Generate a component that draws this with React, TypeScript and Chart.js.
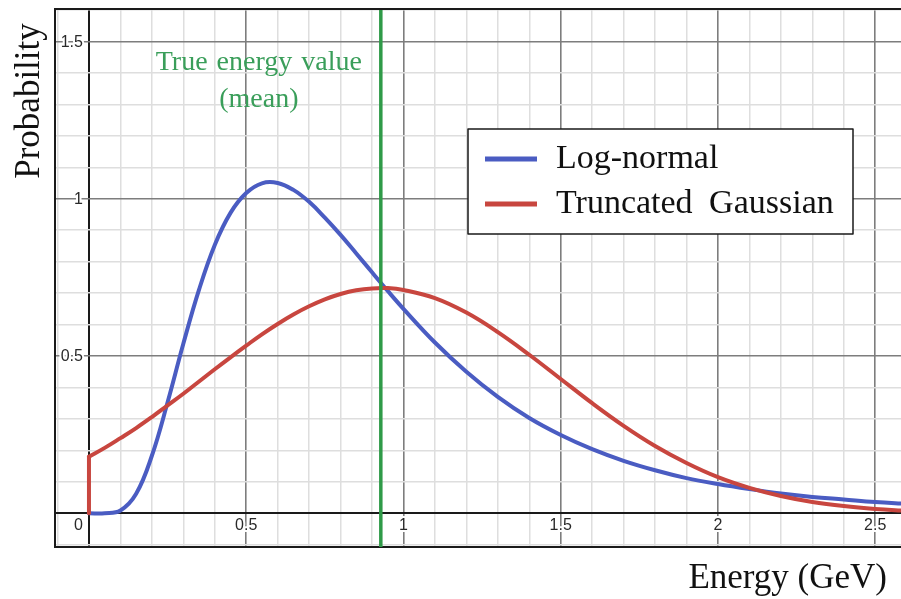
import React, { useEffect, useRef } from "react";
import { Chart, registerables } from "chart.js";

Chart.register(...registerables);

// ---- data ----
const ENERGY = [
  0, 0.05, 0.1, 0.15, 0.2, 0.25, 0.3, 0.35, 0.4, 0.45, 0.5, 0.55, 0.6, 0.65, 0.7, 0.75, 0.8, 0.85, 0.9, 0.95, 1.0,
  1.1, 1.2, 1.3, 1.4, 1.5, 1.6, 1.7, 1.8, 1.9, 2.0, 2.1, 2.2, 2.3, 2.4, 2.5, 2.6,
];
const LOG_NORMAL = [
  0, 0.0001, 0.009, 0.062, 0.183, 0.353, 0.539, 0.711, 0.853, 0.955, 1.018, 1.049, 1.05, 1.028, 0.99, 0.94, 0.885, 0.826, 0.766, 0.707, 0.65,
  0.543, 0.45, 0.37, 0.303, 0.249, 0.204, 0.167, 0.137, 0.112, 0.093, 0.077, 0.063, 0.052, 0.044, 0.036, 0.03,
];
const TRUNC_GAUSS = [
  0.18, 0.208, 0.239, 0.271, 0.306, 0.343, 0.38, 0.419, 0.458, 0.496, 0.533, 0.569, 0.602, 0.632, 0.658, 0.68, 0.697, 0.709, 0.715, 0.716, 0.71,
  0.684, 0.638, 0.576, 0.504, 0.427, 0.35, 0.278, 0.214, 0.16, 0.115, 0.081, 0.055, 0.036, 0.023, 0.014, 0.008,
];
const TRUE_ENERGY = 0.928;
const X_TICKS = [0, 0.5, 1, 1.5, 2, 2.5];
const Y_TICKS = [0.5, 1, 1.5];
const SERIES_LABELS = ["Log-normal", "Truncated Gaussian"];
const X_TITLE = "Energy (GeV)";
const Y_TITLE = "Probability";
const MEAN_NOTE = ["True energy value", "(mean)"];
const X_MIN = -0.108;
const X_MAX = 2.582;
const Y_MIN = -0.107;
const Y_MAX = 1.603;

const BLUE = "#4a5cc2";
const RED = "#c8463f";
const GREEN = "#2f9a48";
const GREEN_TEXT = "#3a9e5a";

const isNear = (a: number, b: number) => Math.abs(a - b) < 1e-6;
const gridColor = (c: any) => {
  const v = c.tick ? c.tick.value : NaN;
  if (isNear(v, 0)) return "#1a1a1a";
  if (isNear(v * 2, Math.round(v * 2))) return "#7d7d7d";
  return "#dedede";
};
const gridWidth = (c: any) => {
  const v = c.tick ? c.tick.value : NaN;
  if (isNear(v, 0)) return 2;
  if (isNear(v * 2, Math.round(v * 2))) return 1.6;
  return 1.5;
};

const overlay = {
  id: "overlay",
  afterDatasetsDraw(chart: any) {
    const { ctx, chartArea: a, scales } = chart;
    const x = scales.x;
    const y = scales.y;
    ctx.save();

    // top frame line
    ctx.strokeStyle = "#1a1a1a";
    ctx.lineWidth = 2;
    ctx.beginPath();
    ctx.moveTo(a.left - 1, a.top);
    ctx.lineTo(a.right, a.top);
    ctx.stroke();

    // tick labels next to the axes
    const x0 = x.getPixelForValue(0);
    const y0 = y.getPixelForValue(0);
    ctx.font = '16px "Liberation Sans", Arial, sans-serif';
    ctx.lineJoin = "round";
    const label = (t: string, px: number, py: number, align: any, base: any) => {
      ctx.textAlign = align;
      ctx.textBaseline = base;
      ctx.strokeStyle = "#ffffff";
      ctx.lineWidth = 4;
      ctx.strokeText(t, px, py);
      ctx.fillStyle = "#2a2a2a";
      ctx.fillText(t, px, py);
    };
    X_TICKS.forEach((v) => {
      if (v === 0) label("0", x0 - 6, y0 + 4, "right", "top");
      else label(String(v), x.getPixelForValue(v), y0 + 4, "center", "top");
    });
    Y_TICKS.forEach((v) => label(String(v), x0 - 6, y.getPixelForValue(v) + 1, "right", "middle"));

    // note about the true energy value
    const gx = x.getPixelForValue(TRUE_ENERGY) - 122;
    ctx.fillStyle = GREEN_TEXT;
    ctx.font = '28px "Liberation Serif", "Times New Roman", serif';
    ctx.textAlign = "center";
    ctx.textBaseline = "alphabetic";
    try { (ctx as any).wordSpacing = "2px"; } catch (e) {}
    ctx.fillText(MEAN_NOTE[0], gx, a.top + 61);
    ctx.fillText(MEAN_NOTE[1], gx, a.top + 98);

    // legend
    const bx = a.left + 413;
    const by = a.top + 120;
    const bw = 385;
    const bh = 105;
    ctx.fillStyle = "#ffffff";
    ctx.fillRect(bx, by, bw, bh);
    ctx.strokeStyle = "#1a1a1a";
    ctx.lineWidth = 1.5;
    ctx.strokeRect(bx, by, bw, bh);
    const items = chart.data.datasets.filter((d: any) => SERIES_LABELS.includes(d.label));
    items.sort((p: any, q: any) => SERIES_LABELS.indexOf(p.label) - SERIES_LABELS.indexOf(q.label));
    ctx.font = '34px "Liberation Serif", "Times New Roman", serif';
    ctx.textAlign = "left";
    try { (ctx as any).wordSpacing = "8px"; } catch (e) {}
    items.forEach((d: any, i: number) => {
      const ly = by + 30 + i * 45;
      ctx.strokeStyle = d.borderColor;
      ctx.lineWidth = 5;
      ctx.beginPath();
      ctx.moveTo(bx + 17, ly);
      ctx.lineTo(bx + 69, ly);
      ctx.stroke();
      ctx.fillStyle = "#111111";
      ctx.fillText(d.label, bx + 88, ly + 9);
    });
    try { (ctx as any).wordSpacing = "0px"; } catch (e) {}

    // axis titles
    ctx.fillStyle = "#111111";
    ctx.font = '35px "Liberation Serif", "Times New Roman", serif';
    ctx.textAlign = "right";
    ctx.textBaseline = "alphabetic";
    ctx.fillText(X_TITLE, a.right - 14, a.bottom + 41);
    ctx.save();
    ctx.translate(a.left - 16, a.top + 92);
    ctx.rotate(-Math.PI / 2);
    ctx.textAlign = "center";
    ctx.fillText(Y_TITLE, 0, 0);
    ctx.restore();

    ctx.restore();
  },
};

export default function App() {
  const ref = useRef<HTMLCanvasElement | null>(null);

  useEffect(() => {
    if (!ref.current) return;
    const pts = (ys: number[]) => ENERGY.map((e, i) => ({ x: e, y: ys[i] }));
    const chart = new Chart(ref.current, {
      type: "line",
      data: {
        datasets: [
          {
            label: "True energy value",
            data: [
              { x: TRUE_ENERGY, y: Y_MIN - 1 },
              { x: TRUE_ENERGY, y: Y_MAX + 1 },
            ],
            borderColor: GREEN,
            borderWidth: 3.5,
            pointRadius: 0,
            tension: 0,
          },
          {
            label: SERIES_LABELS[1],
            data: pts(TRUNC_GAUSS),
            borderColor: RED,
            borderWidth: 4,
            pointRadius: 0,
            tension: 0.4,
            borderJoinStyle: "round",
            borderCapStyle: "round",
          },
          {
            label: "truncation edge",
            data: [
              { x: ENERGY[0], y: 0 },
              { x: ENERGY[0], y: TRUNC_GAUSS[0] },
            ],
            borderColor: RED,
            borderWidth: 4,
            pointRadius: 0,
            tension: 0,
            borderCapStyle: "round",
          },
          {
            label: SERIES_LABELS[0],
            data: pts(LOG_NORMAL),
            borderColor: BLUE,
            borderWidth: 4,
            pointRadius: 0,
            tension: 0.4,
            borderJoinStyle: "round",
            borderCapStyle: "round",
          },
        ],
      },
      options: {
        animation: false,
        responsive: false,
        devicePixelRatio: 1,
        layout: { padding: { left: 55, top: 9, right: 0, bottom: 52 } },
        plugins: { legend: { display: false }, tooltip: { enabled: false } },
        scales: {
          x: {
            type: "linear",
            min: X_MIN,
            max: X_MAX,
            ticks: { display: false, stepSize: 0.1, includeBounds: false },
            grid: { drawTicks: false, color: gridColor, lineWidth: gridWidth },
            border: { display: true, color: "#1a1a1a", width: 2 },
          },
          y: {
            type: "linear",
            min: Y_MIN,
            max: Y_MAX,
            ticks: { display: false, stepSize: 0.1, includeBounds: false },
            grid: { drawTicks: false, color: gridColor, lineWidth: gridWidth },
            border: { display: true, color: "#1a1a1a", width: 2 },
          },
        },
      },
      plugins: [overlay],
    } as any);
    return () => chart.destroy();
  }, []);

  return (
    <div style={{ position: "fixed", left: 0, top: 0, width: 901, height: 599, background: "#fff" }}>
      <canvas ref={ref} width={901} height={599} style={{ display: "block" }} />
    </div>
  );
}
